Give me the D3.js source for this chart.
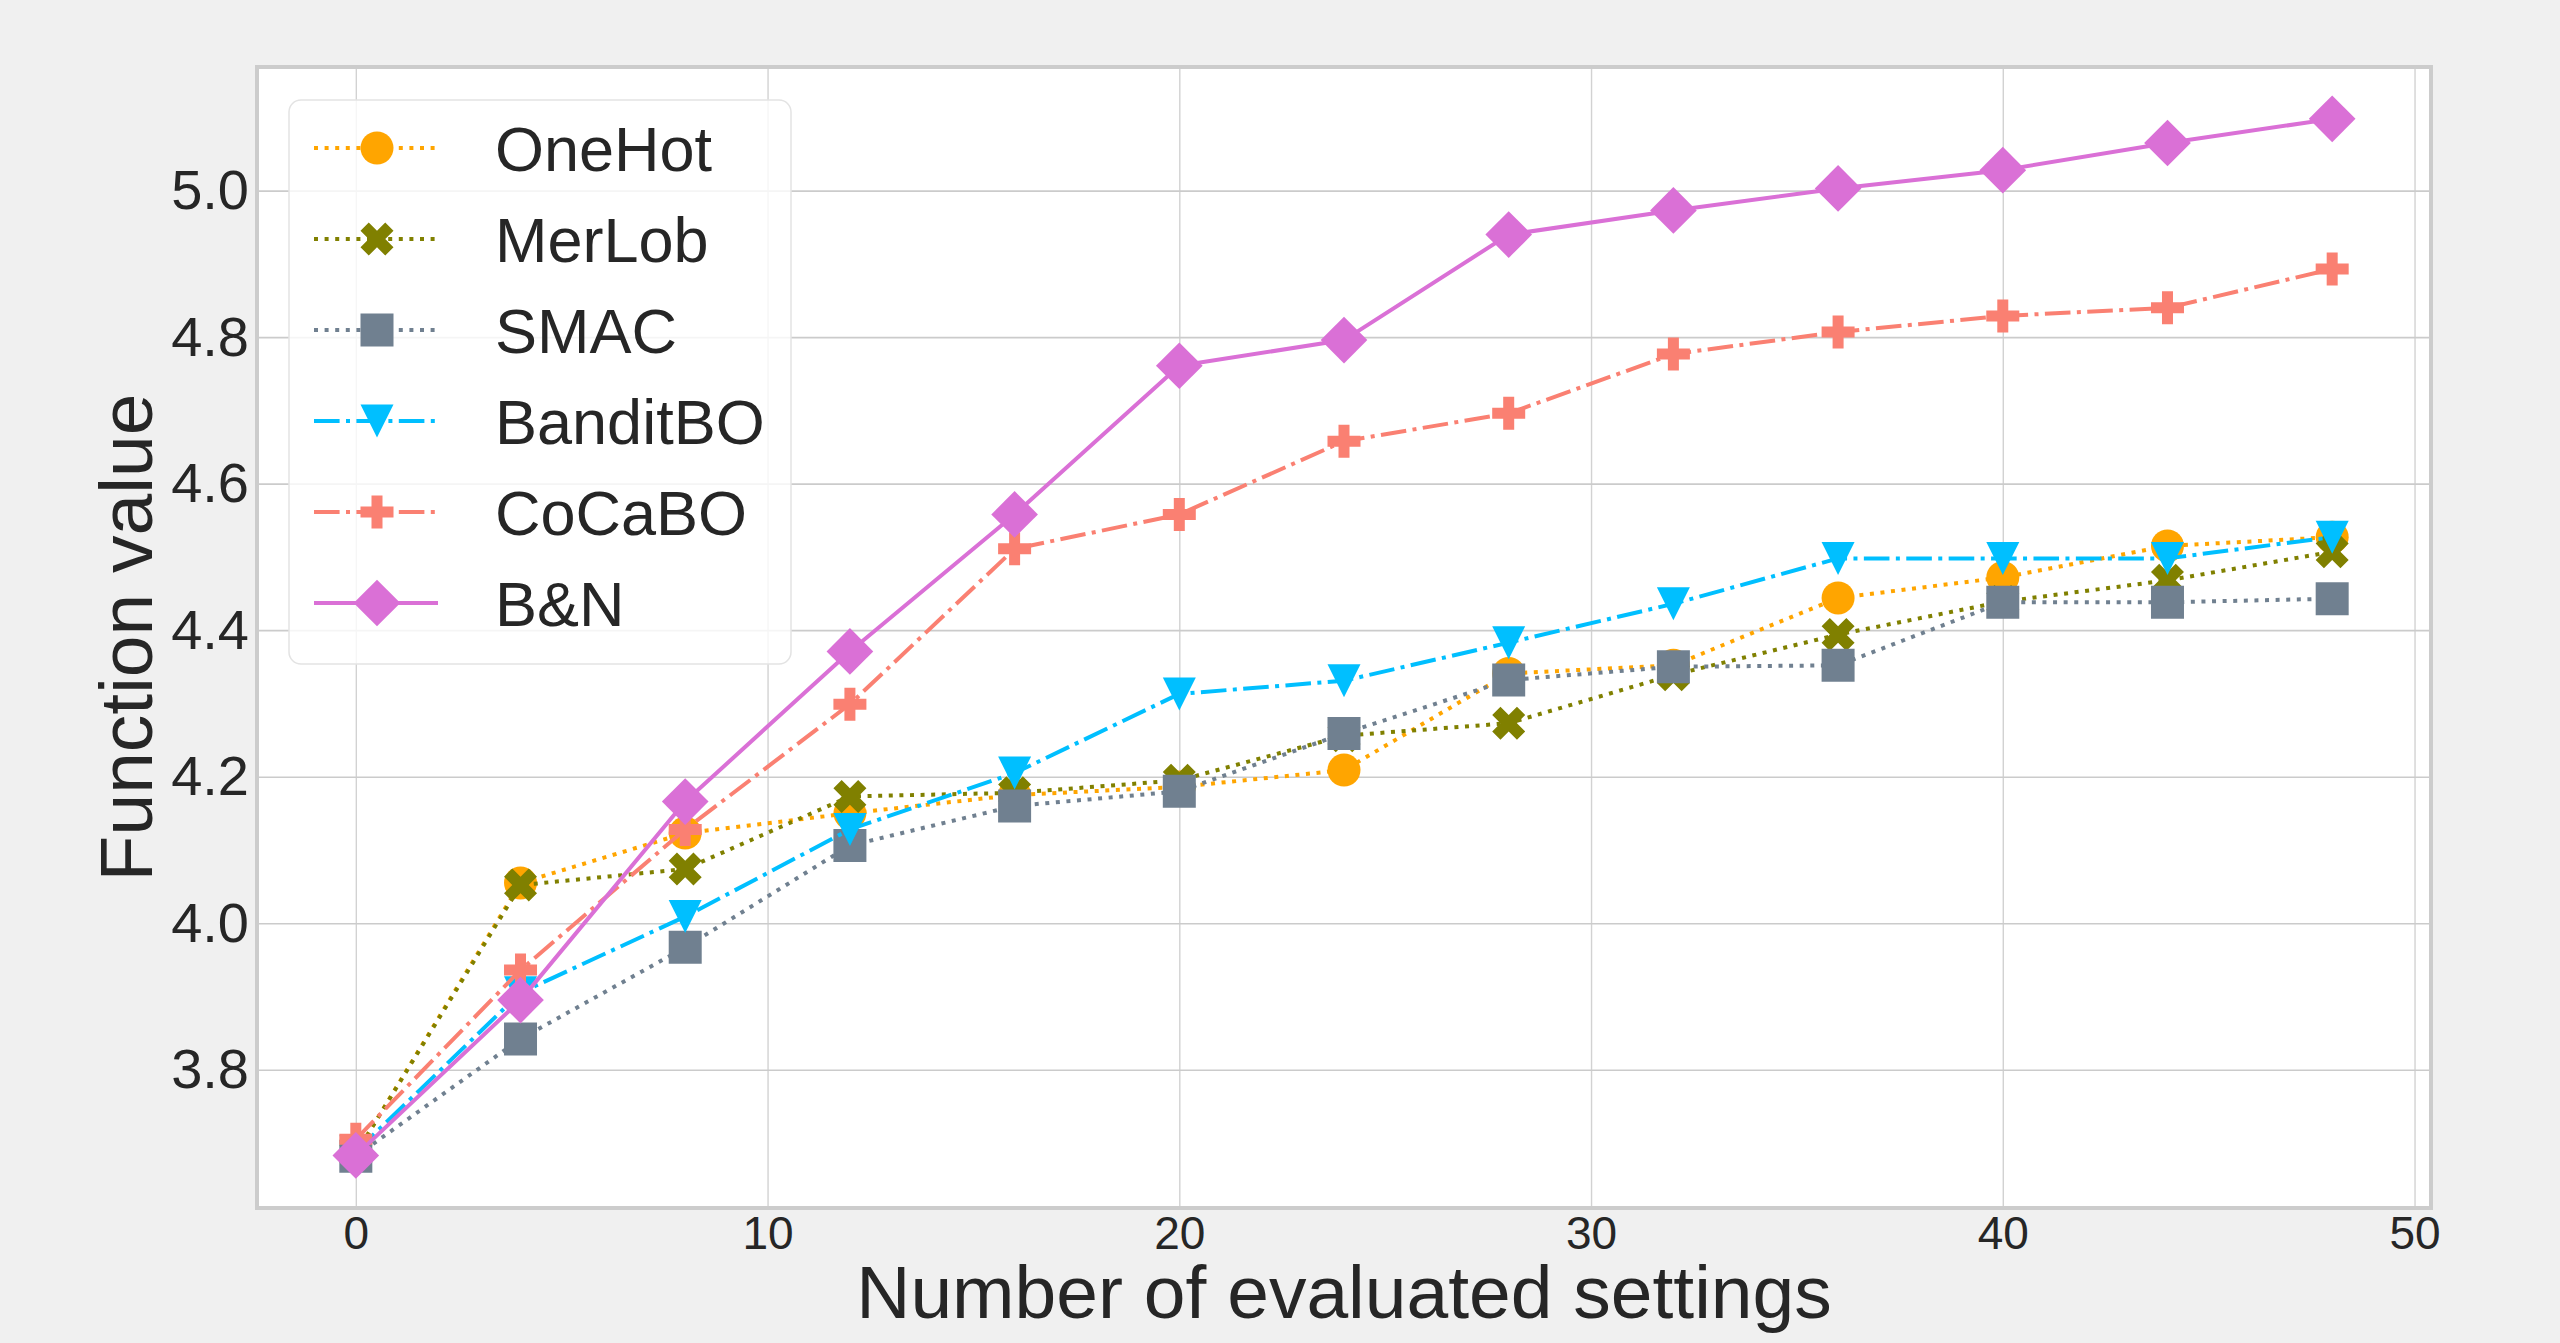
<!DOCTYPE html>
<html>
<head>
<meta charset="utf-8">
<script src="https://cdn.jsdelivr.net/npm/d3@7"></script>
<style>
  body { margin: 0; background: #f0f0f0; }
  svg { display: block; font-family: 'Liberation Sans', Arial, sans-serif; }
</style>
</head>
<body>
<svg id="chart" width="2560" height="1343"></svg>
<script>
// Datos
const evaluated = [0, 4, 8, 12, 16, 20, 24, 28, 32, 36, 40, 44, 48]
const oneHot = [3.685, 4.055, 4.123, 4.150, 4.175, 4.186, 4.209, 4.341, 4.352, 4.444, 4.472, 4.515, 4.527]
const merLob = [3.685, 4.052, 4.074, 4.173, 4.178, 4.195, 4.256, 4.273, 4.339, 4.394, 4.439, 4.468, 4.507]
const smac = [3.682, 3.842, 3.967, 4.106, 4.160, 4.180, 4.259, 4.332, 4.350, 4.352, 4.438, 4.438, 4.443]
const banditBO = [3.688, 3.905, 4.009, 4.128, 4.205, 4.313, 4.331, 4.383, 4.436, 4.498, 4.498, 4.498, 4.527]
const coCaBO = [3.705, 3.936, 4.128, 4.299, 4.511, 4.558, 4.658, 4.696, 4.777, 4.807, 4.829, 4.840, 4.893]
const bAndN = [3.683, 3.895, 4.166, 4.371, 4.558, 4.761, 4.796, 4.940, 4.973, 5.003, 5.028, 5.065, 5.098]

const seriesNames = ['OneHot', 'MerLob', 'SMAC', 'BanditBO', 'CoCaBO', 'B&N']
const seriesValues = [oneHot, merLob, smac, banditBO, coCaBO, bAndN]
const xTicks = [0, 10, 20, 30, 40, 50]
const yTicks = [3.8, 4.0, 4.2, 4.4, 4.6, 4.8, 5.0]

const dotted = '4,6.6'
const dashDot = '25.6,6.4,4,6.4'
const styles = {
  OneHot: { color: '#ffa500', dash: dotted, marker: 'circle' },
  MerLob: { color: '#808000', dash: dotted, marker: 'xFilled' },
  SMAC: { color: '#708090', dash: dotted, marker: 'square' },
  BanditBO: { color: '#00bfff', dash: dashDot, marker: 'triangleDown' },
  CoCaBO: { color: '#fa8072', dash: dashDot, marker: 'plusFilled' },
  'B&N': { color: '#da70d6', dash: null, marker: 'diamond' }
}

const markerSize = 33
const lineWidth = 4

function markerPath (type, s) {
  const h = s / 2
  const poly = pts => 'M' + pts.map(p => `${p[0] * s},${p[1] * s}`).join('L') + 'Z'
  switch (type) {
    case 'circle':
      return d3.symbol(d3.symbolCircle, Math.PI * h * h)()
    case 'square':
      return `M${-h},${-h}H${h}V${h}H${-h}Z`
    case 'triangleDown':
      return `M0,${h}L${-h},${-h}L${h},${-h}Z`
    case 'diamond': {
      const d = h * Math.SQRT2
      return `M0,${-d}L${d},0L0,${d}L${-d},0Z`
    }
    case 'xFilled':
      return poly([[-0.25, -0.5], [0, -0.25], [0.25, -0.5], [0.5, -0.25], [0.25, 0], [0.5, 0.25],
        [0.25, 0.5], [0, 0.25], [-0.25, 0.5], [-0.5, 0.25], [-0.25, 0], [-0.5, -0.25]])
    case 'plusFilled': {
      const t = 1 / 6
      return poly([[-t, -0.5], [t, -0.5], [t, -t], [0.5, -t], [0.5, t], [t, t],
        [t, 0.5], [-t, 0.5], [-t, t], [-0.5, t], [-0.5, -t], [-t, -t]])
    }
  }
}

const svg = d3.select('#chart')
const plotLeft = 257
const plotRight = 2431
const plotTop = 67
const plotBottom = 1208

// margenes como matplotlib (5%)
const xExt = d3.extent(evaluated)
const xPad = (xExt[1] - xExt[0]) * 0.05
const yExt = d3.extent(seriesValues.flat())
const yPad = (yExt[1] - yExt[0]) * 0.05

const x = d3.scaleLinear().domain([xExt[0] - xPad, xExt[1] + xPad]).range([plotLeft, plotRight])
const y = d3.scaleLinear().domain([yExt[0] - yPad, yExt[1] + yPad]).range([plotBottom, plotTop])

svg.append('rect')
  .attr('x', plotLeft).attr('y', plotTop)
  .attr('width', plotRight - plotLeft).attr('height', plotBottom - plotTop)
  .attr('fill', '#ffffff')

const xAxis = svg.append('g')
  .attr('transform', `translate(0,${plotBottom})`)
  .call(d3.axisBottom(x).tickValues(xTicks).tickSize(-(plotBottom - plotTop)).tickPadding(8).tickFormat(d3.format('d')))

const yAxis = svg.append('g')
  .attr('transform', `translate(${plotLeft},0)`)
  .call(d3.axisLeft(y).tickValues(yTicks).tickSize(-(plotRight - plotLeft)).tickPadding(8).tickFormat(d3.format('.1f')))

xAxis.select('.domain').remove()
yAxis.select('.domain').remove()
xAxis.selectAll('.tick line').attr('stroke', '#d2d2d2').attr('stroke-width', 1.4)
yAxis.selectAll('.tick line').attr('stroke', '#cbcbcb').attr('stroke-width', 1.6)
xAxis.selectAll('.tick text')
  .attr('fill', '#262626').style('font-size', '46px').style('font-family', "'Liberation Sans', Arial, sans-serif")
yAxis.selectAll('.tick text')
  .attr('fill', '#262626').style('font-size', '56px').style('font-family', "'Liberation Sans', Arial, sans-serif")

const line = d3.line()
  .x((d, i) => x(evaluated[i]))
  .y(d => y(d))

seriesNames.forEach((name, k) => {
  const st = styles[name]
  const g = svg.append('g').attr('class', 'series')
  g.append('path')
    .datum(seriesValues[k])
    .attr('d', line)
    .attr('fill', 'none')
    .attr('stroke', st.color)
    .attr('stroke-width', lineWidth)
    .attr('stroke-dasharray', st.dash)
    .attr('stroke-linejoin', 'round')
  g.selectAll('.marker')
    .data(seriesValues[k])
    .enter().append('path')
    .attr('class', 'marker')
    .attr('transform', (d, i) => `translate(${x(evaluated[i])},${y(d)})`)
    .attr('d', markerPath(st.marker, markerSize))
    .attr('fill', st.color)
})

// marco
svg.append('rect')
  .attr('x', plotLeft).attr('y', plotTop)
  .attr('width', plotRight - plotLeft).attr('height', plotBottom - plotTop)
  .attr('fill', 'none')
  .attr('stroke', '#cccccc')
  .attr('stroke-width', 4)

// titulos de ejes
svg.append('text')
  .attr('x', (plotLeft + plotRight) / 2)
  .attr('y', 1318)
  .attr('text-anchor', 'middle')
  .attr('fill', '#262626')
  .style('font-size', '75px')
  .text('Number of evaluated settings')

svg.append('text')
  .attr('transform', `translate(152,${(plotTop + plotBottom) / 2}) rotate(-90)`)
  .attr('text-anchor', 'middle')
  .attr('fill', '#262626')
  .style('font-size', '75px')
  .text('Function value')

// leyenda
const legend = svg.append('g')
legend.append('rect')
  .attr('x', 289).attr('y', 100)
  .attr('width', 502).attr('height', 564)
  .attr('rx', 12)
  .attr('fill', '#ffffff').attr('fill-opacity', 0.8)
  .attr('stroke', '#e3e3e3').attr('stroke-width', 1.5)

seriesNames.forEach((name, k) => {
  const st = styles[name]
  const cy = 148 + k * 91
  const item = legend.append('g')
  item.append('line')
    .attr('x1', 314).attr('x2', 438)
    .attr('y1', cy).attr('y2', cy)
    .attr('stroke', st.color)
    .attr('stroke-width', lineWidth)
    .attr('stroke-dasharray', st.dash)
  item.append('path')
    .attr('transform', `translate(377,${cy})`)
    .attr('d', markerPath(st.marker, markerSize))
    .attr('fill', st.color)
  item.append('text')
    .attr('x', 495).attr('y', cy)
    .attr('dy', '0.36em')
    .attr('fill', '#262626')
    .style('font-size', '63px')
    .text(name)
})
</script>
</body>
</html>
